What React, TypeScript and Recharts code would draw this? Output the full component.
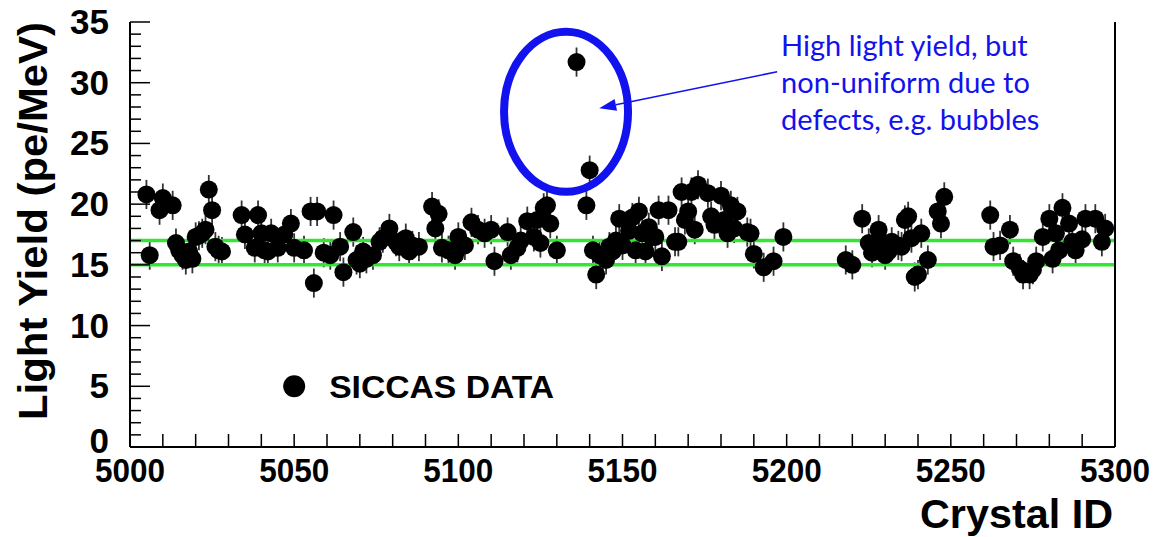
import { ScatterChart, Scatter, XAxis, YAxis, ErrorBar, ReferenceLine, ReferenceDot } from 'recharts';

const crystalIds = [
  5005, 5006, 5009, 5010, 5013, 5014, 5015, 5016, 5017, 5018, 5019, 5020, 5021, 5022, 5023, 5024, 5025, 5026, 5027, 5028,
  5034, 5035, 5038, 5039, 5040, 5041, 5042, 5043, 5045, 5047, 5049, 5050, 5053, 5055, 5056, 5057, 5059, 5061, 5062, 5064,
  5065, 5068, 5069, 5070, 5071, 5072, 5074, 5076, 5077, 5079, 5081, 5082, 5084, 5085, 5086, 5088, 5092, 5093, 5094, 5095,
  5097, 5099, 5100, 5102, 5104, 5106, 5108, 5110, 5111, 5115, 5116, 5118, 5119, 5121, 5123, 5124, 5125, 5126, 5127, 5128,
  5130, 5136, 5139, 5140, 5141, 5142, 5143, 5144, 5145, 5146, 5147, 5148, 5149, 5150, 5152, 5153, 5154, 5155, 5156, 5157,
  5158, 5159, 5160, 5161, 5162, 5164, 5166, 5167, 5168, 5169, 5170, 5171, 5172, 5173, 5176, 5177, 5178, 5180, 5181, 5182,
  5183, 5184, 5185, 5188, 5189, 5190, 5193, 5196, 5199,
  5218, 5220, 5223, 5225, 5226, 5228, 5229, 5230, 5231, 5232, 5234, 5235, 5236, 5237, 5238, 5239, 5240, 5241, 5243, 5246,
  5247, 5248, 5262, 5263, 5265, 5268, 5269, 5271, 5272, 5274, 5275, 5276, 5278, 5280, 5281, 5282, 5283, 5284, 5286, 5287,
  5288, 5290, 5291, 5294, 5296, 5297,
];

const lightYield = [
  20.8, 15.8, 19.5, 20.5, 19.9, 16.8, 16.2, 15.8, 15.4, 16.1, 15.5, 17.3, 17.4, 17.6, 17.9, 21.2, 19.5, 16.5, 16.2, 16.1,
  19.1, 17.5, 16.4, 19.1, 17.6, 16.2, 16.1, 17.6, 16.4, 17.5, 18.4, 16.4, 16.2, 19.4, 13.5, 19.4, 16.0, 15.8, 19.1, 16.5,
  14.4, 17.7, 15.4, 15.1, 16.1, 15.5, 15.8, 16.9, 17.2, 18.0, 16.9, 16.5, 17.2, 16.1, 16.6, 16.5, 19.8, 18.0, 19.2, 16.4,
  16.2, 15.8, 17.3, 16.6, 18.5, 17.9, 17.6, 17.9, 15.3, 17.7, 15.8, 16.4, 17.0, 18.6, 17.3, 18.7, 16.8, 19.7, 19.9, 18.4,
  16.2, 31.7, 19.9, 22.8, 16.2, 14.2, 15.8, 15.7, 15.4, 16.5, 16.1, 17.0, 18.8, 16.6, 17.8, 18.9, 16.2, 19.4, 17.6, 16.1,
  18.1, 17.3, 17.3, 19.5, 15.7, 19.5, 16.9, 16.9, 21.0, 18.7, 19.4, 21.0, 17.9, 21.6, 20.9, 19.0, 18.3, 20.7, 18.7, 17.6,
  19.9, 18.0, 19.4, 17.7, 17.6, 15.9, 14.8, 15.3, 17.3,
  15.4, 15.0, 18.8, 16.8, 16.0, 17.9, 16.9, 15.8, 16.1, 16.9, 16.6, 16.5, 18.7, 19.0, 17.2, 14.0, 14.2, 17.6, 15.4, 19.4,
  18.4, 20.6, 19.1, 16.5, 16.6, 17.9, 15.3, 14.7, 14.2, 14.2, 14.6, 15.3, 17.3, 18.8, 15.5, 17.6, 16.2, 19.7, 18.4, 16.9,
  16.2, 17.1, 18.8, 18.8, 16.9, 18.0,
];

const ERR = 1.2; // typical half-length of the error bars
const bandLow = 15;
const bandHigh = 17;

const xTicks = Array.from({ length: 31 }, (_, i) => 5000 + i * 10);
const yTicks = Array.from({ length: 36 }, (_, i) => i);

const noteLines = ['High light yield, but', 'non-uniform due to', 'defects, e.g. bubbles'];

const data = crystalIds.map((id, i) => ({ id, ly: lightYield[i], err: ERR }));

const FONT = "'Liberation Sans', Arial, Helvetica, sans-serif";
const BLUE = '#1212ee';

const BottomTick = (p: any) => {
  const v = p.payload.value;
  return (
    <g>
      <line x1={p.x} y1={p.y} x2={p.x} y2={p.y - 13} stroke="#000" strokeWidth={1.5} />
      {v % 50 === 0 && (
        <text x={p.x} y={p.y + 35} textAnchor="middle" fontSize={34} fontWeight="bold" fontFamily={FONT}
          textLength={70} lengthAdjust="spacingAndGlyphs" fill="#000">{v}</text>
      )}
    </g>
  );
};

const TopTick = (p: any) => (
  <line x1={p.x} y1={p.y} x2={p.x} y2={p.y + 13} stroke="#000" strokeWidth={1.5} />
);

const LeftTick = (p: any) => {
  const v = p.payload.value;
  const len = v % 5 === 0 ? 20 : 11;
  return (
    <g>
      <line x1={p.x} y1={p.y} x2={p.x + len} y2={p.y} stroke="#000" strokeWidth={1.5} />
      {v % 5 === 0 && (
        <text x={p.x - 21} y={p.y + (v === 0 ? 6 : 12)} textAnchor="end" fontSize={35} fontWeight="bold"
          fontFamily={FONT} fill="#000">{v}</text>
      )}
    </g>
  );
};

const RightTick = (p: any) => {
  const v = p.payload.value;
  const len = v % 5 === 0 ? 20 : 11;
  return <line x1={p.x} y1={p.y} x2={p.x - len} y2={p.y} stroke="#000" strokeWidth={1.5} />;
};

const Dot = (p: any) => <circle cx={p.cx} cy={p.cy} r={9} fill="#000" />;

const Arrow = (p: any) => {
  const { x1, y1, x2, y2 } = p;
  const a = Math.atan2(y2 - y1, x2 - x1);
  const L = 17, W = 6;
  const bx = x2 - L * Math.cos(a), by = y2 - L * Math.sin(a);
  const px = -Math.sin(a) * W, py = Math.cos(a) * W;
  return (
    <g>
      <line x1={x1} y1={y1} x2={bx} y2={by} stroke={BLUE} strokeWidth={1.6} />
      <polygon points={`${x2},${y2} ${bx + px},${by + py} ${bx - px},${by - py}`} fill={BLUE} />
    </g>
  );
};

export default function App() {
  return (
    <div style={{ position: 'absolute', left: 0, top: 0, background: '#fff' }}>
      <ScatterChart width={1156} height={537} margin={{ top: 22, right: 0, bottom: 0, left: 0 }}>
        <XAxis dataKey="id" type="number" domain={[5000, 5300]} ticks={xTicks} interval={0} height={90}
          tickSize={0} tickMargin={0} tickLine={false} tick={<BottomTick />}
          axisLine={{ stroke: '#000', strokeWidth: 2 }}
          label={(lp: any) => {
            const vb = lp.viewBox;
            return (
              <text x={vb.x + vb.width - 2} y={vb.y + 81} textAnchor="end" fontSize={40} fontWeight="bold"
                fontFamily={FONT} textLength={193} lengthAdjust="spacingAndGlyphs" fill="#000">Crystal ID</text>
            );
          }} />
        <XAxis xAxisId="top" orientation="top" type="number" domain={[5000, 5300]} ticks={xTicks} interval={0} height={0}
          tickSize={0} tickMargin={0} tickLine={false} tick={<TopTick />} axisLine={{ stroke: '#000', strokeWidth: 2 }} />
        <YAxis dataKey="ly" type="number" domain={[0, 35]} ticks={yTicks} interval={0} width={130}
          tickSize={0} tickMargin={0} tickLine={false} tick={<LeftTick />}
          axisLine={{ stroke: '#000', strokeWidth: 2 }}
          label={(lp: any) => {
            const vb = lp.viewBox;
            const cx = 47, cy = vb.y + 199;
            return (
              <text x={cx} y={cy} transform={`rotate(-90 ${cx} ${cy})`} textAnchor="middle" fontSize={41}
                fontWeight="bold" fontFamily={FONT} textLength={398} lengthAdjust="spacingAndGlyphs" fill="#000">
                Light Yield (pe/MeV)
              </text>
            );
          }} />
        <YAxis yAxisId="right" orientation="right" type="number" domain={[0, 35]} ticks={yTicks} interval={0} width={41}
          tickSize={0} tickMargin={0} tickLine={false} tick={<RightTick />} axisLine={{ stroke: '#000', strokeWidth: 2 }} />

        <Scatter data={data} dataKey="ly" shape={<Dot />} isAnimationActive={false}>
          <ErrorBar dataKey="err" direction="y" width={0} stroke="#333" strokeWidth={1.8} isAnimationActive={false} />
        </Scatter>

        <ReferenceLine y={bandHigh} stroke="#33e633" strokeWidth={3.5} />
        <ReferenceLine y={bandLow} stroke="#33e633" strokeWidth={3.5} />

        <ReferenceDot x={5050} y={5} shape={(p: any) => (
          <g>
            <circle cx={p.cx} cy={p.cy} r={11} fill="#000" />
            <text x={p.cx + 35} y={p.cy + 12} fontSize={32} fontWeight="bold" fontFamily={FONT}
              textLength={225} lengthAdjust="spacingAndGlyphs" fill="#000">SICCAS DATA</text>
          </g>
        )} />

        <ReferenceDot x={5132.8} y={27.6} shape={(p: any) => (
          <ellipse cx={p.cx} cy={p.cy} rx={62} ry={80} fill="none" stroke={BLUE} strokeWidth={8} />
        )} />
        <ReferenceLine segment={[{ x: 5197.1, y: 30.9 }, { x: 5142.9, y: 27.9 }]} shape={<Arrow />} />
        <ReferenceDot x={5198.3} y={32.2} shape={(p: any) => (
          <text x={p.cx} y={p.cy} fontSize={29} fontFamily="Lato, 'Open Sans', sans-serif" fill={BLUE}>
            {noteLines.map((t, i) => (
              <tspan key={t} x={p.cx} dy={i === 0 ? 0 : 37}>{t}</tspan>
            ))}
          </text>
        )} />
      </ScatterChart>
    </div>
  );
}
